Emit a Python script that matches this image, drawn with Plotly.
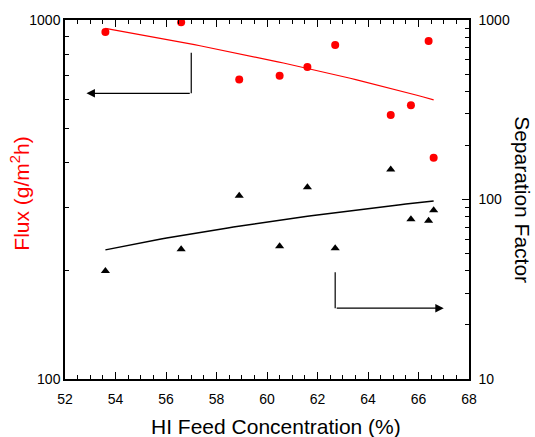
import numpy as np
import plotly.graph_objects as go

# Data
hi_conc = [53.6, 56.6, 58.9, 60.5, 61.6, 62.7, 64.9, 65.7, 66.4, 66.6]
flux = [926, 985, 683, 699, 740, 852, 544, 579, 874, 413]
sep_factor = [40.0, 52.8, 105, 54.9, 117, 53.5, 147, 77.6, 76.2, 87]

x_ticks = [52, 54, 56, 58, 60, 62, 64, 66, 68]
flux_ticks = [100, 1000]
flux_minor = [200, 300, 400, 500, 600, 700, 800, 900]
sep_ticks = [10, 100, 1000]
sep_minor = [20, 30, 40, 50, 60, 70, 80, 90, 200, 300, 400, 500, 600, 700, 800, 900]

# Linear least-squares trend lines (computed from the data)
xc = np.array(hi_conc)
fit_x = np.linspace(xc.min(), xc.max(), 60)
flux_fit = np.polyval(np.polyfit(xc, flux, 1), fit_x)
sep_fit = np.polyval(np.polyfit(xc, sep_factor, 1), fit_x)

FONT = "Arial, Liberation Sans, sans-serif"

fig = go.Figure()
fig.add_trace(go.Scatter(x=fit_x, y=flux_fit, mode="lines",
                         line=dict(color="red", width=1.2), yaxis="y", showlegend=False))
fig.add_trace(go.Scatter(x=hi_conc, y=flux, mode="markers",
                         marker=dict(color="red", size=8, symbol="circle"),
                         yaxis="y", showlegend=False))
fig.add_trace(go.Scatter(x=fit_x, y=sep_fit, mode="lines",
                         line=dict(color="black", width=1.5), yaxis="y2", showlegend=False))
fig.add_trace(go.Scatter(x=hi_conc, y=sep_factor, mode="markers",
                         marker=dict(color="black", size=8, symbol="triangle-up"),
                         yaxis="y2", showlegend=False))

# Arrow guides (vertical stems)
fig.add_trace(go.Scatter(x=[57.0, 57.0], y=[811, 625], mode="lines",
                         line=dict(color="black", width=1.2), yaxis="y",
                         showlegend=False, hoverinfo="skip"))
fig.add_trace(go.Scatter(x=[62.7, 62.7], y=[39.3, 24.8], mode="lines",
                         line=dict(color="black", width=1.2), yaxis="y2",
                         showlegend=False, hoverinfo="skip"))

annotations = [
    # left-pointing arrow (flux axis)
    dict(x=52.85, y=np.log10(625), xref="x", yref="y",
         ax=57.0, ay=np.log10(625), axref="x", ayref="y",
         text="", showarrow=True, arrowhead=2, arrowsize=1.3, arrowwidth=1.3,
         arrowcolor="black", standoff=0, startstandoff=0),
    # right-pointing arrow (separation factor axis)
    dict(x=67.0, y=np.log10(24.8), xref="x", yref="y2",
         ax=62.7, ay=np.log10(24.8), axref="x", ayref="y2",
         text="", showarrow=True, arrowhead=2, arrowsize=1.3, arrowwidth=1.3,
         arrowcolor="black", standoff=0, startstandoff=0),
    # axis titles
    dict(text="HI Feed Concentration (%)", xref="paper", yref="paper",
         x=0.523, y=-0.131, xanchor="center", yanchor="middle", showarrow=False,
         font=dict(family=FONT, size=21, color="black")),
    dict(text="Flux (g/m<sup>2</sup>h)", xref="paper", yref="paper",
         x=-0.11, y=0.515, xanchor="center", yanchor="middle", showarrow=False,
         textangle=-90, font=dict(family=FONT, size=21, color="red")),
    dict(text="Separation Factor", xref="paper", yref="paper",
         x=1.132, y=0.50, xanchor="center", yanchor="middle", showarrow=False,
         textangle=90, font=dict(family=FONT, size=21, color="black")),
]

fig.update_layout(
    width=535, height=437,
    margin=dict(l=65, r=66, t=20, b=58),
    paper_bgcolor="white", plot_bgcolor="white",
    font=dict(family=FONT, size=14, color="black"),
    showlegend=False,
    annotations=annotations,
    xaxis=dict(range=[52, 68], tickvals=x_ticks, ticks="inside", ticklen=7,
               tickwidth=1, tickcolor="black", showline=True, linecolor="black",
               linewidth=1.5, mirror="ticks", showgrid=False, zeroline=False,
               minor=dict(dtick=0.5, ticks="inside", ticklen=4, tickcolor="black",
                          showgrid=False),
               ticklabelstandoff=6, tickfont=dict(size=14)),
    yaxis=dict(type="log", range=[2, 3], tickvals=flux_ticks, ticks="inside",
               ticklen=7, tickcolor="black", showline=True, linecolor="black",
               linewidth=1.5, showgrid=False, zeroline=False,
               minor=dict(tickvals=flux_minor, ticks="inside", ticklen=4,
                          tickcolor="black", showgrid=False),
               tickfont=dict(size=14)),
    yaxis2=dict(type="log", range=[1, 3], overlaying="y", side="right",
                tickvals=sep_ticks, ticks="inside", ticklen=7, tickcolor="black",
                showline=True, linecolor="black", linewidth=1.5, showgrid=False,
                zeroline=False,
                minor=dict(tickvals=sep_minor, ticks="inside", ticklen=4,
                           tickcolor="black", showgrid=False),
                ticklabelstandoff=5, tickfont=dict(size=14)),
)

fig.write_html("out.html", config={"displayModeBar": False},
               post_script="document.body.style.margin='0';document.body.style.padding='0';document.body.style.overflow='hidden';")
